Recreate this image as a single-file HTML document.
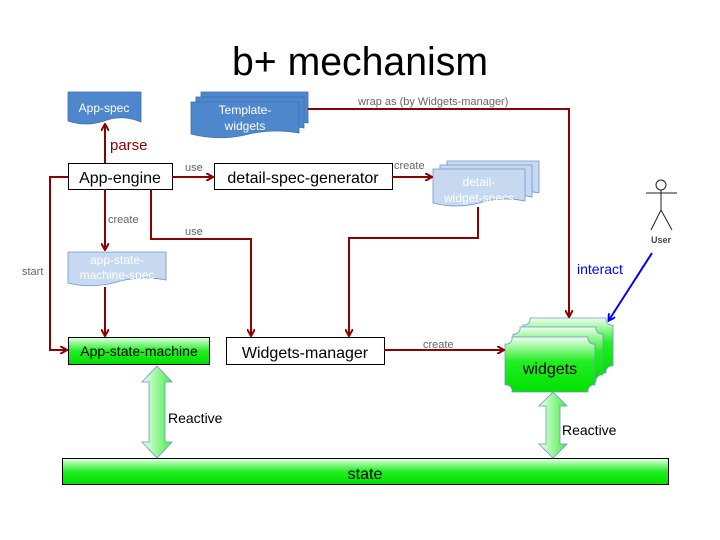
<!DOCTYPE html>
<html><head><meta charset="utf-8"><style>
html,body{margin:0;padding:0;background:#fff}
svg{display:block;font-family:"Liberation Sans",sans-serif}
</style></head><body>
<svg width="720" height="540" viewBox="0 0 720 540" xmlns="http://www.w3.org/2000/svg">
<defs>
<marker id="ar" markerWidth="8" markerHeight="8" refX="6" refY="4" orient="auto" markerUnits="userSpaceOnUse">
<path d="M0,0 L7,4 L0,8" fill="none" stroke="#8b0000" stroke-width="2"/></marker>
<marker id="ab" markerWidth="8" markerHeight="8" refX="6" refY="4" orient="auto" markerUnits="userSpaceOnUse">
<path d="M0,0 L7,4 L0,8" fill="none" stroke="#0000ff" stroke-width="2"/></marker>
<linearGradient id="g" x1="0" y1="0" x2="0" y2="1"><stop offset="0" stop-color="#e6ffe6"/><stop offset="0.5" stop-color="#22ee22"/><stop offset="1" stop-color="#00dd00"/></linearGradient>
<linearGradient id="gh" x1="0" y1="0" x2="1" y2="0"><stop offset="0" stop-color="#f0fff0"/><stop offset="1" stop-color="#44ee44"/></linearGradient>
<linearGradient id="gw" x1="0" y1="0" x2="0" y2="1"><stop offset="0" stop-color="#f0fff0"/><stop offset="0.45" stop-color="#22ee22"/><stop offset="1" stop-color="#00e000"/></linearGradient>
</defs>
<text x="360" y="75" font-size="40" text-anchor="middle" textLength="256" lengthAdjust="spacingAndGlyphs">b+ mechanism</text>

<!-- App-spec -->
<path d="M68,92 H141 V122 Q122,114 104,121 Q86,127 68,121 Z" fill="#4f87cc" stroke="#3e6fae" stroke-width="0.8"/>
<text x="104" y="112" font-size="12" fill="#fff" text-anchor="middle">App-spec</text>

<!-- Template widgets -->
<path d="M201,92 H308 V123 Q280,118 254,125 Q228,131 201,124 Z" fill="#4f87cc" stroke="#3e6fae" stroke-width="0.8"/>
<path d="M196,97 H304 V128 Q276,123 250,130 Q223,136 196,129 Z" fill="#4f87cc" stroke="#3e6fae" stroke-width="0.8"/>
<path d="M191,102 H299 V133 Q271,128 245,135 Q218,141 191,134 Z" fill="#4f87cc" stroke="#3e6fae" stroke-width="0.8"/>
<text x="245" y="114" font-size="12" fill="#fff" text-anchor="middle">Template-</text>
<text x="245" y="130" font-size="12" fill="#fff" text-anchor="middle">widgets</text>

<!-- App-engine -->
<rect x="68.5" y="163.5" width="104" height="26" fill="#fff" stroke="#000"/>
<text x="120" y="183" font-size="16" text-anchor="middle">App-engine</text>
<!-- detail-spec-generator -->
<rect x="214.5" y="163.5" width="178" height="26" fill="#fff" stroke="#000"/>
<text x="303" y="183" font-size="16" text-anchor="middle">detail-spec-generator</text>

<!-- detail widget specs -->
<path d="M447,161 H539 V193 Q515,188 493,195 Q470,201 447,195 Z" fill="#c6d9f1" stroke="#6f95c6" stroke-width="0.8"/>
<path d="M440,165 H532 V197 Q508,192 486,199 Q463,205 440,199 Z" fill="#c6d9f1" stroke="#6f95c6" stroke-width="0.8"/>
<path d="M433,169 H525 V201 Q501,196 479,203 Q456,209 433,203 Z" fill="#c6d9f1" stroke="#6f95c6" stroke-width="0.8"/>
<text x="479" y="186" font-size="12" fill="#fff" text-anchor="middle">detail-</text>
<text x="479" y="202" font-size="12" fill="#fff" text-anchor="middle">widget-specs</text>

<!-- app-state-machine-spec -->
<path d="M68,252 H166 V280 Q140,275 117,282 Q92,289 68,283 Z" fill="#c6d9f1" stroke="#6f95c6" stroke-width="0.8"/>
<text x="117" y="264" font-size="12" fill="#fff" text-anchor="middle">app-state-</text>
<text x="117" y="279" font-size="12" fill="#fff" text-anchor="middle">machine-spec</text>

<!-- App-state-machine -->
<rect x="68.5" y="337.5" width="141" height="27" fill="url(#g)" stroke="#000"/>
<text x="139" y="356" font-size="14" text-anchor="middle">App-state-machine</text>
<!-- Widgets-manager -->
<rect x="226.5" y="337.5" width="158" height="27" fill="#fff" stroke="#000"/>
<text x="305" y="358" font-size="16" text-anchor="middle">Widgets-manager</text>

<!-- widgets stacked -->
<g stroke="#6f95c6" stroke-width="0.8" fill="url(#gw)">
<path d="M530,318 H606 a6,6 0 0 0 7,7 V366 a6,6 0 0 0 -7,7 H530 a6,6 0 0 0 -7,-7 V325 a6,6 0 0 0 7,-7 Z"/>
<path d="M520,327 H596 a6,6 0 0 0 7,7 V375 a6,6 0 0 0 -7,7 H520 a6,6 0 0 0 -7,-7 V334 a6,6 0 0 0 7,-7 Z"/>
<path d="M512,337 H588 a6,6 0 0 0 7,7 V385 a6,6 0 0 0 -7,7 H512 a6,6 0 0 0 -7,-7 V344 a6,6 0 0 0 7,-7 Z"/>
</g>
<text x="550" y="374" font-size="16" text-anchor="middle">widgets</text>

<!-- state -->
<rect x="62.5" y="458.5" width="606" height="26" fill="url(#g)" stroke="#000"/>
<text x="365" y="479" font-size="16" text-anchor="middle">state</text>

<!-- reactive double arrows -->
<path d="M157,366 L172,382 H165 V442 H172 L157,458 L142,442 H149 V382 H142 Z" fill="url(#gh)" stroke="#6f95c6" stroke-width="0.8"/>
<text x="168" y="423" font-size="14">Reactive</text>
<path d="M553,392 L567,406 H560 V444 H567 L553,458 L539,444 H546 V406 H539 Z" fill="url(#gh)" stroke="#6f95c6" stroke-width="0.8"/>
<text x="562" y="435" font-size="14">Reactive</text>

<!-- connectors -->
<g fill="none" stroke="#8b0000" stroke-width="2">
<path d="M105,163 V125" marker-end="url(#ar)"/>
<path d="M172,177 H212" marker-end="url(#ar)"/>
<path d="M68,177 H50 V350 H66" marker-end="url(#ar)"/>
<path d="M105,189 V249" marker-end="url(#ar)"/>
<path d="M105,287 V335" marker-end="url(#ar)"/>
<path d="M151,189 V239 H251 V335" marker-end="url(#ar)"/>
<path d="M392,177 H431" marker-end="url(#ar)"/>
<path d="M478,207 V238 H349 V335" marker-end="url(#ar)"/>
<path d="M308,109 H569 V316" marker-end="url(#ar)"/>
<path d="M384,350 H503" marker-end="url(#ar)"/>
</g>
<path d="M652,253 L609,320" stroke="#0000ff" stroke-width="2" fill="none" marker-end="url(#ab)"/>

<!-- labels -->
<text x="110" y="150" font-size="15" fill="#8b0000">parse</text>
<g font-size="11" fill="#666">
<text x="185" y="171">use</text>
<text x="108" y="223">create</text>
<text x="185" y="235">use</text>
<text x="22" y="275">start</text>
<text x="394" y="169">create</text>
<text x="358" y="105">wrap as (by Widgets-manager)</text>
<text x="423" y="348">create</text>
</g>
<text x="577" y="274" font-size="14" fill="#0000ff">interact</text>

<!-- user actor -->
<g stroke="#222" stroke-width="1" fill="none">
<circle cx="661" cy="185" r="5"/>
<path d="M661,190 V210 M646,193 H677 M661,210 L651,230 M661,210 L672,230"/>
</g>
<text x="661" y="243" font-size="9" font-weight="bold" fill="#444" text-anchor="middle">User</text>
</svg>
</body></html>
